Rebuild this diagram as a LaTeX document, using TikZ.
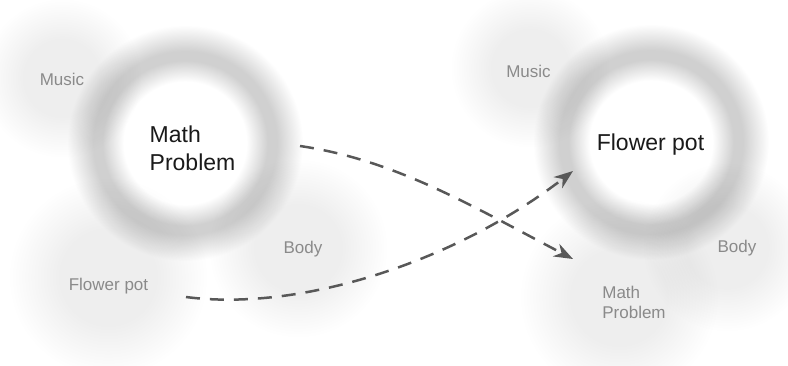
\documentclass[tikz,border=0pt]{standalone}
\usepackage{fontspec}
\setmainfont{Liberation Sans}
\usetikzlibrary{arrows.meta}
\definecolor{blobc}{HTML}{EEEEEE}
\definecolor{ringc}{HTML}{D0D0D0}
\definecolor{labc}{HTML}{8A8A8A}
\definecolor{mainc}{HTML}{1A1A1A}
\definecolor{arrc}{HTML}{585858}
\pgfdeclareradialshading{blobshade}{\pgfpointorigin}{color(0bp)=(blobc); color(12bp)=(blobc); color(25bp)=(white); color(50bp)=(white)}
\pgfdeclareradialshading{ringshade}{\pgfpointorigin}{color(0bp)=(white); color(13bp)=(white); color(17.5bp)=(ringc); color(19.5bp)=(ringc); color(25bp)=(white); color(50bp)=(white)}
\tikzset{
  blob/.style={circle, inner sep=0pt, draw=none, shade, shading=blobshade},
  ring/.style={circle, inner sep=0pt, draw=none, shade, shading=ringshade, minimum size=236pt},
  sublabel/.style={text=labc, font=\fontsize{17}{20}\selectfont, inner sep=0pt, align=left},
  mainlabel/.style={text=mainc, font=\fontsize{23}{28}\selectfont, inner sep=0pt, align=left},
  conn/.style={draw=arrc, line width=2.5pt, dash pattern=on 14pt off 10pt, -{Stealth[length=19pt,width=14pt,inset=6pt]}}
}
\begin{document}
\begin{tikzpicture}[x=1pt,y=-1pt]
\useasboundingbox (0,0) rectangle (788,365);
\begin{scope}[blend mode=multiply]
  \node[blob, minimum size=160pt] (bMusicL) at (62,78) {};
  \node[blob, minimum size=200pt] (bFlowerL) at (108,277) {};
  \node[blob, minimum size=180pt] (bBodyL) at (298,248) {};
  \node[blob, minimum size=160pt] (bMusicR) at (530,68) {};
  \node[blob, minimum size=200pt] (bMathR) at (619,297) {};
  \node[blob, minimum size=170pt] (bBodyR) at (727,247) {};
  \node[ring] (rL) at (185,143) {};
  \node[ring] (rR) at (651,142) {};
\end{scope}
\node[mainlabel] (tMathL) at (192.5,148) {Math\\Problem};
\node[mainlabel, anchor=base] (tFlowerR) at (650.5,150) {Flower pot};
\node[sublabel, anchor=base] (tMusicL) at (62,85) {Music};
\node[sublabel, anchor=base] (tBodyL) at (303,253) {Body};
\node[sublabel, anchor=base] (tFlowerL) at (108.5,290) {Flower pot};
\node[sublabel, anchor=base] (tMusicR) at (528.5,77) {Music};
\node[sublabel, anchor=base] (tBodyR) at (737,252) {Body};
\node[sublabel] (tMathR) at (634,302) {Math\\Problem};
\coordinate (s1) at (300,146);
\coordinate (e1) at (573,259);
\coordinate (s2) at (186,297);
\coordinate (e2) at (573,171);
\draw[conn] (s1) .. controls (395,160) and (470,205) .. (e1);
\draw[conn] (s2) .. controls (300,312) and (455,262) .. (e2);
\end{tikzpicture}
\end{document}
